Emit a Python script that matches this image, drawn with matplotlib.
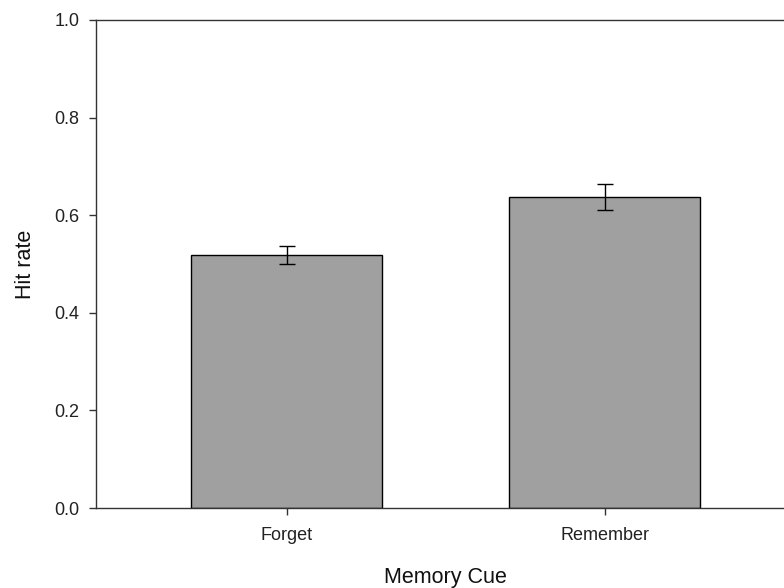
import matplotlib
matplotlib.use("Agg")
import matplotlib.pyplot as plt

# data
cues = ["Forget", "Remember"]
hit_rate = [0.518, 0.637]
sem = [0.018, 0.026]

plt.rcParams['font.family'] = ['Liberation Sans', 'DejaVu Sans']

fig = plt.figure(figsize=(7.84, 5.88), dpi=100)
ax = fig.add_axes([0.1224, 0.136, 0.892, 0.830])

x = list(range(len(cues)))
ax.bar(x, hit_rate, width=0.6, color="#a0a0a0", edgecolor="black", linewidth=1.0,
       yerr=sem, error_kw=dict(ecolor="black", elinewidth=1.0, capsize=6, capthick=1.0))

ax.set_xlim(-0.6, 1.6)
ax.set_ylim(0, 1.0)
ax.set_xticks(x)
ax.set_xticklabels(cues, fontsize=13, color="#222222")
ax.set_yticks([0.0, 0.2, 0.4, 0.6, 0.8, 1.0])
ax.set_yticklabels(["0.0", "0.2", "0.4", "0.6", "0.8", "1.0"], fontsize=13, color="#222222")
ax.tick_params(direction="out", length=5, width=1, color="#333333", pad=7)
ax.tick_params(axis="x", pad=9)

for s in ["left", "top", "bottom"]:
    ax.spines[s].set_color("#333333")
    ax.spines[s].set_linewidth(1.0)
ax.spines["right"].set_visible(False)

ax.set_xlabel("Memory Cue", fontsize=15.5, labelpad=16, color="#111111")
ax.set_ylabel("Hit rate", fontsize=15.5, labelpad=13, color="#111111")

fig.savefig("out.png", dpi=100)
